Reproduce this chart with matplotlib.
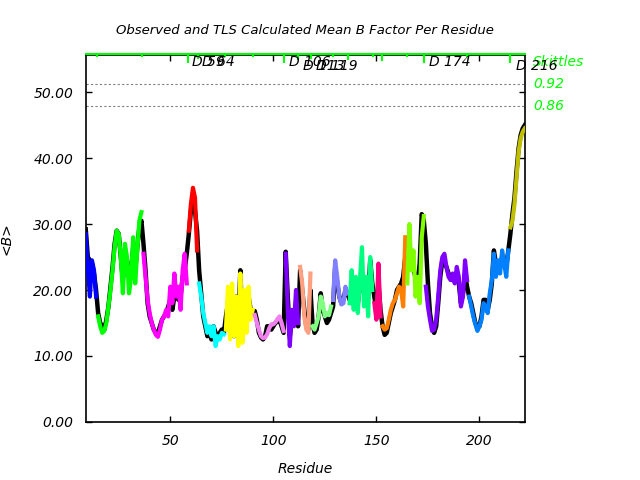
import matplotlib
matplotlib.use("Agg")
import matplotlib.pyplot as plt
import matplotlib.transforms as mtransforms
import numpy as np

# residue numbers 9..222
residues = np.arange(9, 223)

# observed mean B per residue
obs_b = [
    29.2, 25, 24.5, 24, 22.5, 20, 16.5, 15, 14.5, 14,
    15.5, 17.5, 20.5, 23.5, 27, 29, 28.5, 25, 21.5, 25.5,
    24.5, 22, 22.5, 26.5, 23, 26.5, 29.5, 30.5, 27, 23,
    18, 16, 15, 14, 13.5, 13.5, 14.5, 15.5, 16, 16.5,
    17.5, 18.5, 17, 19, 19, 18.5, 19, 22, 23, 25.5,
    28.5, 32, 34.5, 32, 29, 23, 19.5, 16, 14.5, 13,
    13.5, 12.5, 14.5, 13.5, 13, 13.5, 14, 13.5, 16, 18,
    14, 17, 13, 19, 14.5, 23, 14, 19, 14.5, 19,
    17, 16.5, 16.8, 15.5, 13.5, 12.8, 12.5, 13, 14.5, 14.5,
    14, 14.5, 15, 15.2, 15.5, 14.5, 13.5, 25.8, 19, 13,
    15.5, 15, 18, 14.5, 23, 20, 17, 14.5, 14, 20,
    15, 13.5, 14, 16, 19.5, 17, 16, 15, 15.5, 16.5,
    17.5, 23.5, 21, 19, 18, 18.5, 20, 19.5, 18.5, 20.5,
    18, 20, 18, 21, 22, 19.5, 20.5, 19, 24.5, 21,
    19, 17, 21, 17, 14.5, 13.2, 13.5, 15, 16.5, 17.5,
    18.5, 20, 20.5, 21, 22, 25, 24, 24, 24.5, 23,
    22, 21, 24, 31.5, 30.5, 27, 21, 16.5, 14.5, 13.5,
    14.5, 18, 22, 24.5, 24, 23.5, 22.5, 22, 21.5, 22,
    21.5, 21, 18, 19.5, 22.5, 20.5, 19, 18, 16.5, 15,
    14.5, 14.5, 16, 18.5, 18.5, 17, 18.5, 21, 26, 24,
    24, 23.5, 25, 24.5, 23.5, 26, 28.5, 31.5, 34, 38,
    41.5, 43.5, 44.5, 45,
]

# TLS calculated mean B per residue
tls_b = [
    28.5, 23.5, 19, 24.5, 23, 19,
    16, 14.5, 13.5, 13.8, 15, 17.5, 20, 23, 26.5, 29, 28.5, 25, 19.5, 27, 25, 19.5, 22, 28, 21, 26, 30.5, 31.8,
    25.5, 22, 18.5, 16.5, 15, 14, 13.2, 12.9, 14, 15.5, 16, 17, 16, 20.5, 18, 22.5, 19, 20.5, 17, 23, 25.5, 21,
    29, 33, 35.5, 34, 26,
    21, 19, 16.5, 15, 13.5, 14.5, 13, 14.5, 11.5, 13, 12.5, 13.5, 13.3,
    14, 20.5, 12.5, 21, 13, 19, 11.5, 22.5, 12, 20, 13.5, 20.5, 15.5, 17,
    16.2, 15, 14, 13, 12.7, 12.8, 13.3, 14.2, 14.8, 14.8, 15.1, 15.6, 16, 15, 13.8,
    25.5, 17, 11.5, 17, 14.5, 20, 15,
    23.5, 21, 16, 14, 13.5, 22.5,
    14.5, 14, 15, 16, 19, 18, 16, 16.5, 16.2, 17.5,
    18.5, 24.5, 22, 19, 17.8, 18, 20.5, 19.5,
    18, 23, 17, 22, 16.5, 21.5, 26.5, 17.5, 22, 16, 25, 20,
    18, 15.5, 24, 16,
    14.5, 14, 14.2, 15.5, 17, 18, 18.5, 19.5, 20.5, 20, 17.5, 28,
    21, 30, 23, 26, 19, 22, 18, 28, 31.2,
    20.5, 17.5, 15.5, 13.8, 14, 15.5, 19, 23, 25, 25.5, 23.5, 22, 21.5, 22.5, 21, 23.5, 22, 17.5, 19, 24.5, 21.5,
    19, 17.5, 16, 14.8, 13.8, 14.5, 15.5, 18, 17.5, 16.5, 19.5, 21.5, 25.5, 22, 24.5, 22.5, 26, 24, 22, 26,
    29.5, 30.5, 33, 37, 41, 43, 44, 44.5,
]

# TLS segments: first residue, last residue, colour
seg_start = [9, 15, 37, 59, 64, 77, 91, 106, 113, 119, 129, 137, 149, 153, 165, 174, 195, 215]
seg_end = [14, 36, 58, 63, 76, 90, 105, 112, 118, 128, 136, 148, 152, 164, 173, 194, 214, 222]
seg_colors = ['#0000ff', '#00ff00', '#ff00ff', '#ff0000', '#00ffff', '#ffff00',
              '#f080f0', '#8000ff', '#ffa080', '#80ff80', '#8080ff', '#00ff80',
              '#ff0080', '#ff8000', '#80ff00', '#8000ff', '#0080ff', '#c0c000']

# chain break labels on top
label_res = [59, 64, 106, 113, 119, 174, 216]
label_text = ['D 59', 'D 64', 'D 106', 'D 113', 'D 119', 'D 174', 'D 216']
label_y = [54.5, 54.5, 54.6, 53.9, 53.9, 54.6, 53.9]

# skittle marks along top edge
skittle_res = [14.3, 36.3, 58.4, 63.5, 76.6, 90, 105.3, 112.1, 118.5, 129, 136.2, 148.3, 152.7, 164.8, 172.9, 194, 214.6]
skittle_len = [0.3, 0.3, 1.2, 0.6, 0.3, 0.3, 1.2, 0.8, 0.6, 0.3, 0.8, 0.3, 1.0, 0.3, 1.2, 0.3, 1.3]

# significance levels
sig_levels = [51.3, 47.9]
sig_labels = ['0.92', '0.86']

assert len(obs_b) == len(residues) and len(tls_b) == len(residues)

fig = plt.figure(figsize=(6.4, 4.8), dpi=100)
ax = fig.add_axes([0.134, 0.121, 0.686, 0.764])

ax.plot(residues, obs_b, color='black', lw=3.2, zorder=2)
tls_arr = np.array(tls_b)
for s, e, c in zip(seg_start, seg_end, seg_colors):
    m = (residues >= s) & (residues <= e)
    ax.plot(residues[m], tls_arr[m], color=c, lw=3.0, zorder=3)

ax.set_xlim(9, 222)
ax.set_ylim(0, 55.6)

for lvl in sig_levels:
    ax.axhline(lvl, color='gray', lw=0.8, ls=(0, (2, 2)), zorder=1)

trans = mtransforms.blended_transform_factory(ax.transAxes, ax.transData)
for lvl, lab in zip(sig_levels, sig_labels):
    ax.text(1.019, lvl, lab, transform=trans, color='#00ff00', fontsize=10,
            fontstyle='italic', va='center', ha='left', clip_on=False)
ax.text(1.019, 54.5, 'Skittles', transform=trans, color='#00ff00', fontsize=10,
        fontstyle='italic', va='center', ha='left', clip_on=False)

# skittles line and ticks at the top
ax.plot([9, 222], [55.8, 55.8], color='#00ff00', lw=1.5, clip_on=False, zorder=4)
for r, h in zip(skittle_res, skittle_len):
    ax.plot([r, r], [55.8, 55.8 - h], color='#00ff00', lw=1.5, clip_on=False, zorder=4)

for r, t, y in zip(label_res, label_text, label_y):
    ax.text(r + 1.5, y, t, fontsize=10, fontstyle='italic', va='center', ha='left',
            clip_on=False, zorder=5)

ax.set_xticks([50, 100, 150, 200])
ax.set_yticks([0, 10, 20, 30, 40, 50])
ax.set_yticklabels(['%.2f' % v for v in [0, 10, 20, 30, 40, 50]])
ax.tick_params(direction='in', top=True, right=True, length=4, width=1,
               labelsize=10, pad=9)
for lab in ax.get_xticklabels() + ax.get_yticklabels():
    lab.set_fontstyle('italic')
for sp in ax.spines.values():
    sp.set_linewidth(1.2)

ax.set_xlabel('Residue', fontsize=10, fontstyle='italic', labelpad=10)
ax.set_ylabel('<B>', fontsize=10, fontstyle='italic', labelpad=14)
ax.set_title('Observed and TLS Calculated Mean B Factor Per Residue',
             fontsize=9.5, fontstyle='italic', pad=15)

fig.savefig('out.png', dpi=100)
